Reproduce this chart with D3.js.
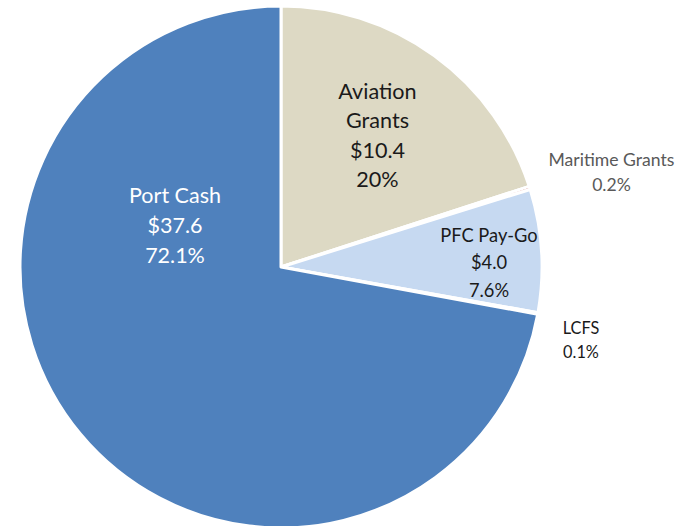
<!DOCTYPE html>
<html>
<head>
<meta charset="utf-8">
<script src="https://cdn.jsdelivr.net/npm/d3@7"></script>
<style>
  html, body { margin: 0; padding: 0; background: #fff; }
  svg { display: block; font-family: Lato, "Open Sans", sans-serif; }
</style>
</head>
<body>
<div id="chart"></div>
<script>
//Chart data
var categories = ["Aviation Grants", "Maritime Grants", "PFC Pay-Go", "LCFS", "Port Cash"];
var amounts = [10.4, 0.1, 4.0, 0.05, 37.6];
var percents = [20, 0.2, 7.6, 0.1, 72.1];
var labelLines = [
    ["Aviation", "Grants", "$10.4", "20%"],
    ["Maritime Grants", "0.2%"],
    ["PFC Pay-Go", "$4.0", "7.6%"],
    ["LCFS", "0.1%"],
    ["Port Cash", "$37.6", "72.1%"]
];
var colors = ["#DDD9C4", "#C0504D", "#C6D9F1", "#9BBB59", "#4F81BD"];

//Layout
var width = 696, height = 526;
var cx = 281, cy = 267, radius = 261;

//Label placement: offset from pie centre, font size, line height, colour
var labelStyle = [
    { dx: 96.5, dy: -131.5, size: 21.6, lh: 29.5, fill: "#1a1a1a" },
    { dx: 330.5, dy: -95, size: 17.6, lh: 25, fill: "#595959" },
    { dx: 208, dy: -4, size: 18.3, lh: 27.5, fill: "#1a1a1a" },
    { dx: 300, dy: 73, size: 16.3, lh: 24, fill: "#1a1a1a" },
    { dx: -106, dy: -42, size: 21.5, lh: 30, fill: "#ffffff" }
];

var svg = d3.select("#chart")
    .append("svg")
        .attr("width", width)
        .attr("height", height);

var g = svg.append("g")
    .attr("transform", `translate(${cx}, ${cy})`);

var pie = d3.pie()
    .sort(null)
    .value(function(d) { return d; });

var arc = d3.arc()
    .innerRadius(0)
    .outerRadius(radius);

var arcs = pie(percents);

//Slices
g.selectAll("path")
    .data(arcs)
    .enter()
    .append("path")
        .attr("d", arc)
        .attr("fill", function(d, i) { return colors[i]; })
        .attr("stroke", "#fff")
        .attr("stroke-width", 3)
        .attr("stroke-linejoin", "round");

//Labels
arcs.forEach(function(d, i) {
    var s = labelStyle[i];
    var lines = labelLines[i];
    var top = s.dy - (lines.length - 1) * s.lh / 2;

    var text = g.append("text")
        .attr("text-anchor", "middle")
        .attr("font-size", s.size)
        .attr("fill", s.fill);

    lines.forEach(function(line, k) {
        text.append("tspan")
            .attr("x", s.dx)
            .attr("y", top + k * s.lh)
            .attr("dy", "0.35em")
            .text(line);
    });
});
</script>
</body>
</html>
